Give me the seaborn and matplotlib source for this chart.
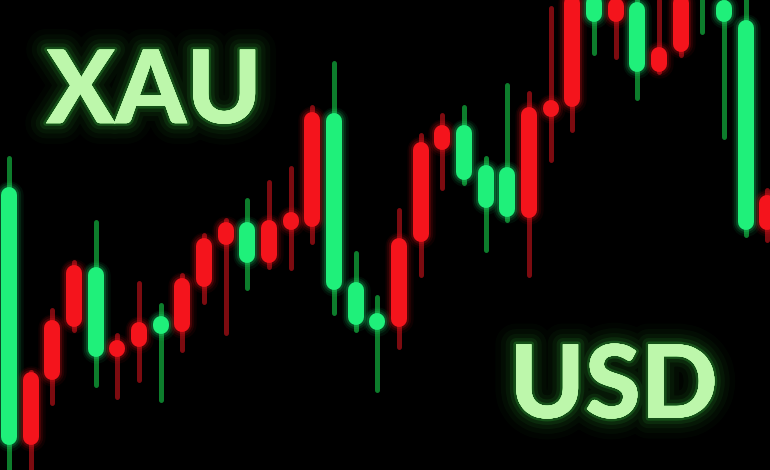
import numpy as np
import pandas as pd
import seaborn as sns
import matplotlib.pyplot as plt
import matplotlib.patheffects as pe

# candle data (price units)
opens  = [25, 98, 150, 205, 113, 130, 148, 138, 192, 232, 248, 207, 250, 255, 358, 180, 145, 142,
          232, 328, 345, 290, 262, 253, 363, 368, 475, 448, 472, 398, 423, 475, 465, 448, 240, 275]
closes = [283, 25, 90, 143, 203, 113, 123, 152, 138, 183, 225, 248, 207, 243, 243, 357, 188, 155,
          143, 228, 320, 345, 305, 303, 252, 355, 363, 475, 448, 468, 398, 418, 480, 470, 450, 240]
highs  = [312, 98, 160, 208, 248, 135, 187, 165, 195, 235, 250, 270, 288, 302, 363, 407, 217, 173,
          260, 335, 355, 363, 312, 385, 377, 462, 480, 480, 478, 470, 470, 480, 485, 475, 475, 280]
lows   = [-10, -10, 67, 140, 85, 73, 90, 70, 120, 168, 137, 182, 203, 202, 228, 157, 140, 80,
          123, 195, 282, 287, 220, 250, 195, 310, 340, 417, 413, 372, 398, 415, 438, 333, 235, 230]

labels = ["XAU", "USD"]

up_body, down_body = "#1ff07a", "#f4141c"
up_wick, down_wick = "#0d7d2c", "#7c0b10"
text_col, glow_col = "#bdf7ab", "#3ee84a"

n = len(opens)
direction = np.where(np.array(closes) >= np.array(opens), "up", "down")

# body ends are round caps, so pull the line ends in by half the body width
body_px = 16
cap = body_px / 2

wick_rows, body_rows = [], []
for i in range(n):
    top, bot = max(opens[i], closes[i]), min(opens[i], closes[i])
    wick_rows += [(i, i, lows[i], direction[i]), (i, i, highs[i], direction[i])]
    t, b = top - cap, bot + cap
    if t - b < 1.5:
        mid = (top + bot) / 2
        t, b = mid + 0.75, mid - 0.75
    body_rows += [(i, i, b, direction[i]), (i, i, t, direction[i])]

wicks = pd.DataFrame(wick_rows, columns=["candle", "x", "price", "dir"])
bodies = pd.DataFrame(body_rows, columns=["candle", "x", "price", "dir"])

sns.set_style("dark", {"axes.facecolor": "black", "figure.facecolor": "black"})
fig = plt.figure(figsize=(7.7, 4.7), dpi=100)
ax = fig.add_axes([0, 0, 1, 1])
ax.set_facecolor("black")

sns.lineplot(data=wicks, x="x", y="price", units="candle", hue="dir", estimator=None, sort=False,
             palette={"up": up_wick, "down": down_wick}, linewidth=3.6, legend=False, ax=ax,
             solid_capstyle="round")

body_pal = {"up": up_body, "down": down_body}
lw = body_px * 72 / 100
for extra, alpha in [(9, 0.06), (6, 0.1), (3, 0.18)]:
    sns.lineplot(data=bodies, x="x", y="price", units="candle", hue="dir", estimator=None, sort=False,
                 palette=body_pal, linewidth=lw + extra, alpha=alpha, legend=False, ax=ax,
                 solid_capstyle="round")
sns.lineplot(data=bodies, x="x", y="price", units="candle", hue="dir", estimator=None, sort=False,
             palette=body_pal, linewidth=lw, legend=False, ax=ax, solid_capstyle="round")

ax.set_xlim(-0.4155, 35.13)
ax.set_ylim(0, 470)
ax.axis("off")

glow = [pe.withStroke(linewidth=w, foreground=glow_col, alpha=a)
        for w, a in [(30, 0.025), (22, 0.035), (15, 0.05), (9, 0.09), (4, 0.2)]] + [pe.Normal()]
for lab, (tx, ty) in zip(labels, [(0.200, 0.738), (0.797, 0.111)]):
    ax.text(tx, ty, lab, transform=ax.transAxes, ha="center", va="baseline",
            fontsize=73, fontweight="black", family=["Lato", "DejaVu Sans"],
            color=text_col, path_effects=glow)

fig.savefig("out.png", dpi=100, facecolor="black")
